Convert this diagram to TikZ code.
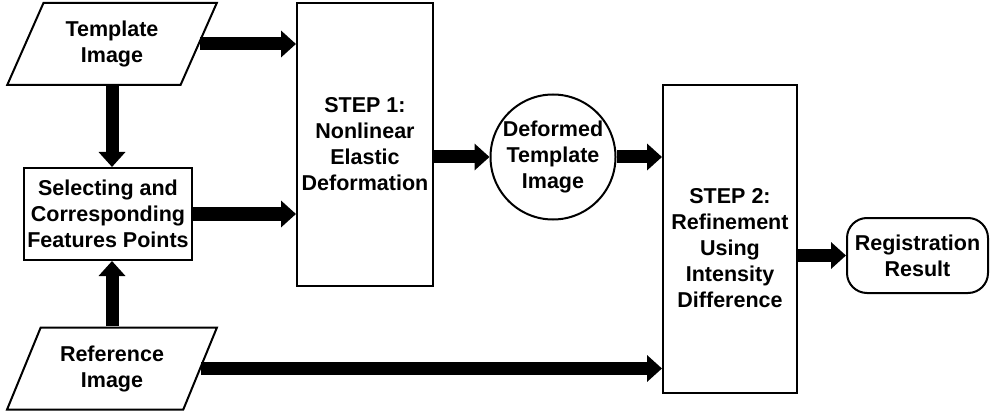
\documentclass[tikz,border=0pt]{standalone}
\usepackage{fontspec}
\setmainfont{Liberation Sans}
\usetikzlibrary{arrows.meta,shapes.geometric}
\begin{document}
\begin{tikzpicture}[x=1pt,y=-1pt,
  every node/.style={font=\bfseries\fontsize{21.5}{26}\selectfont, align=center,
    draw=black, line width=2pt, fill=white, inner sep=0pt},
  iobox/.style={trapezium, trapezium stretches=true,
    trapezium left angle=62, trapezium right angle=118,
    minimum width=210, minimum height=82},
  procbox/.style={rectangle},
  flow/.style={line width=13pt, -{Triangle[length=15pt,width=26pt]}}]
  \useasboundingbox (0,0) rectangle (990,414);

  % inputs, feature matching and the two registration steps
  \node[iobox] (tpl) at (112,44) {Template\\Image};
  \node[iobox] (ref) at (112,368.5) {Reference\\Image};
  \node[procbox, minimum width=168, minimum height=92] (sel) at (108,214)
    {Selecting and\\Corresponding\\Features Points};
  \node[procbox, minimum width=136, minimum height=283] (step1) at (365,144.5)
    {STEP 1:\\Nonlinear\\Elastic\\Deformation};
  \node[circle, minimum size=125] (def) at (553,157) {Deformed\\Template\\Image};
  \node[procbox, minimum width=134, minimum height=308] (step2) at (730,239) {};
  \node[draw=none, fill=none] (step2txt) at (730,248)
    {STEP 2:\\Refinement\\Using\\Intensity\\Difference};
  \node[rectangle, rounded corners=20pt, minimum width=141, minimum height=75] (reg)
    at (917.5,255.5) {Registration\\Result};

  % data flow
  \draw[flow] (tpl.east) -- (tpl.east -| step1.west);
  \draw[flow] (tpl.south) -- (tpl.south |- sel.north);
  \draw[flow] (ref.north) -- (ref.north |- sel.south);
  \draw[flow] (sel.east) -- (sel.east -| step1.west);
  \draw[flow] (def.west -| step1.east) -- (def.west);
  \draw[flow] (def.east) -- (def.east -| step2.west);
  \draw[flow] (ref.east) -- (ref.east -| step2.west);
  \draw[flow] (reg.west -| step2.east) -- (reg.west);
\end{tikzpicture}
\end{document}
